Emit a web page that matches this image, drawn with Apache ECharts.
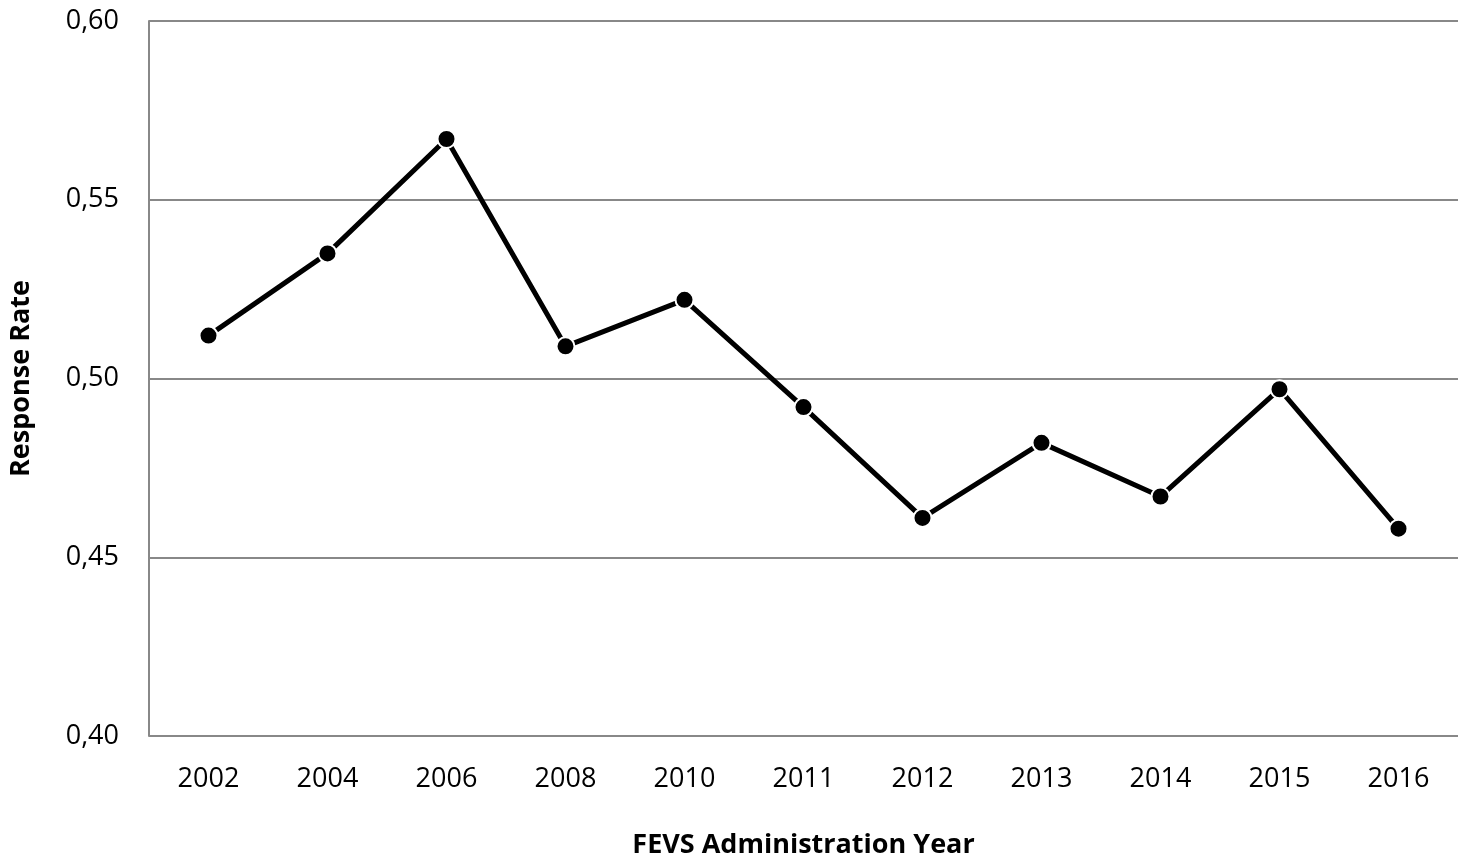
<!DOCTYPE html>
<html>
<head>
<meta charset="utf-8">
<script src="https://cdn.jsdelivr.net/npm/echarts@6/dist/echarts.min.js"></script>
<style>
  html, body { margin: 0; padding: 0; background: #fff; overflow: hidden; }
  #chart { width: 1458px; height: 864px; }
</style>
</head>
<body>
<div id="chart"></div>
<script>
const years = ['2002', '2004', '2006', '2008', '2010', '2011', '2012', '2013', '2014', '2015', '2016'];
const responseRate = [0.512, 0.535, 0.567, 0.509, 0.522, 0.492, 0.461, 0.482, 0.467, 0.497, 0.458];

const chart = echarts.init(document.getElementById('chart'));
const font = '"Open Sans", sans-serif';

chart.setOption({
  animation: false,
  grid: { left: 142, top: 21, width: 1324, bottom: 112 },
  xAxis: {
    type: 'category',
    data: years,
    boundaryGap: true,
    name: 'FEVS Administration Year',
    nameLocation: 'middle',
    nameGap: 96,
    nameTextStyle: { fontFamily: font, fontSize: 27, fontWeight: 'bold', color: '#000' },
    axisLine: { show: false },
    axisTick: { show: false },
    axisLabel: { fontFamily: font, fontSize: 27, color: '#000', margin: 30 }
  },
  yAxis: {
    type: 'value',
    min: 0.4,
    max: 0.6,
    interval: 0.05,
    name: 'Response Rate',
    nameLocation: 'middle',
    nameGap: 114,
    nameTextStyle: { fontFamily: font, fontSize: 27, fontWeight: 'bold', color: '#000' },
    axisLine: { show: true, lineStyle: { color: '#888', width: 2 } },
    axisTick: { show: false },
    splitLine: { lineStyle: { color: '#888', width: 2 } },
    axisLabel: {
      fontFamily: font, fontSize: 27, color: '#000', margin: 30,
      formatter: v => v.toFixed(2).replace('.', ',')
    }
  },
  series: [{
    type: 'line',
    data: responseRate,
    symbol: 'circle',
    symbolSize: 18,
    lineStyle: { color: '#000', width: 5 },
    itemStyle: { color: '#000', borderColor: '#fff', borderWidth: 2 }
  }]
});
</script>
</body>
</html>
